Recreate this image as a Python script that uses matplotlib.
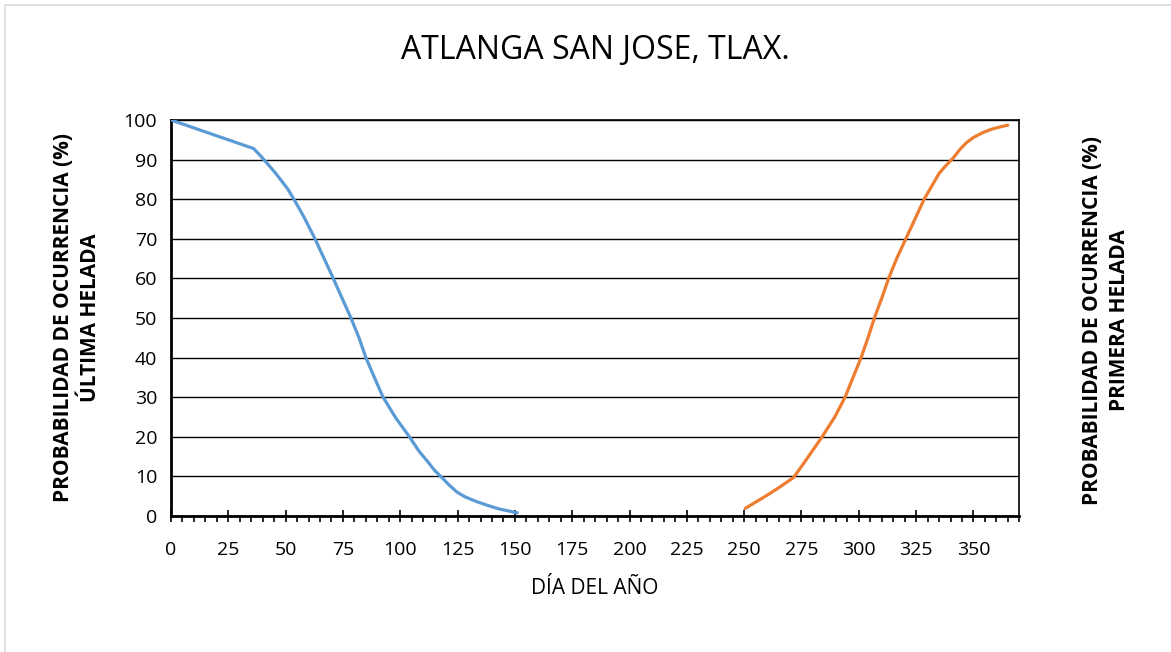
import matplotlib
matplotlib.use("Agg")
import matplotlib.pyplot as plt
from matplotlib.patches import Rectangle
from matplotlib.ticker import MultipleLocator

# last frost (blue) and first frost (orange)
ultima_dia = [0, 36, 39, 42, 45, 48, 51, 53.4, 58, 62.8, 66, 70, 75, 78.5, 82, 85, 88.7, 92.5,
              98, 104, 108, 112, 115, 118, 121, 124.6, 128, 133, 138, 143, 147, 151]
ultima_prob = [100, 92.8, 91, 89, 87, 84.8, 82.5, 80.2, 75.5, 70, 66, 61, 54.5, 50, 45, 40, 35, 30,
               24.8, 20, 16.5, 13.7, 11.5, 9.8, 8, 6.1, 4.9, 3.7, 2.7, 1.8, 1.3, 0.8]

primera_dia = [250.4, 255, 261, 266, 271.5, 275, 278, 281, 284, 289.5, 294, 297.5, 301, 304,
               306.8, 310, 313, 316.5, 320.5, 324.5, 328.5, 332, 335, 338, 341.3, 344, 347,
               350, 354, 358, 362, 365]
primera_prob = [1.9, 3.5, 5.6, 7.5, 9.7, 12.5, 15, 17.5, 20, 25, 30, 35, 40, 45,
                50, 55, 60, 65, 70, 75, 80, 83.5, 86.5, 88.5, 90.5, 92.5, 94.3,
                95.6, 96.8, 97.7, 98.3, 98.7]

plt.rcParams["font.family"] = ["Open Sans", "DejaVu Sans"]

W, H = 1171, 652
fig = plt.figure(figsize=(W / 100, H / 100), dpi=100)
ax = fig.add_axes([171 / W, 1 - 516 / H, (1019.3 - 171) / W, (516 - 120) / H])

fig.patches.append(Rectangle((5 / W, -0.01), 1.02, 1 - 5 / H + 0.01, transform=fig.transFigure,
                             fill=False, edgecolor="#d9d9d9", linewidth=1.2))

ax.plot(ultima_dia, ultima_prob, color="#5B9BD5", linewidth=2.3, solid_capstyle="round",
        solid_joinstyle="round", zorder=3)
ax.plot(primera_dia, primera_prob, color="#ED7D31", linewidth=2.3, solid_capstyle="round",
        solid_joinstyle="round", zorder=3)

ax.set_xlim(0, 370)
ax.set_ylim(0, 100)
ax.xaxis.set_minor_locator(MultipleLocator(5))
ax.yaxis.set_major_locator(MultipleLocator(10))
ax.set_xticks(range(0, 351, 25))
ax.grid(True, axis="y", color="black", linewidth=1.0)
ax.set_axisbelow(True)

ax.tick_params(axis="x", which="major", direction="inout", length=8, width=1.2, labelsize=14, pad=14)
ax.tick_params(axis="x", which="minor", direction="out", length=4, width=1.2)
ax.tick_params(axis="y", length=0, labelsize=14, pad=10)

for side in ["left", "bottom"]:
    ax.spines[side].set_linewidth(2.0)
for side in ["top", "right"]:
    ax.spines[side].set_linewidth(1.2)

ax.set_title("ATLANGA SAN JOSE, TLAX.", fontsize=23, pad=44)
ax.set_xlabel("DÍA DEL AÑO", fontsize=15, labelpad=14)
ax.set_ylabel("PROBABILIDAD DE OCURRENCIA (%)\nÚLTIMA HELADA", fontsize=15, fontweight="bold",
              labelpad=16, linespacing=1.4)

fig.text(1106 / W, 1 - 320 / H, "PROBABILIDAD DE OCURRENCIA (%)\nPRIMERA HELADA",
         rotation=90, ha="center", va="center", fontsize=15, fontweight="bold",
         multialignment="center", linespacing=1.4)

fig.savefig("out.png", dpi=100)
